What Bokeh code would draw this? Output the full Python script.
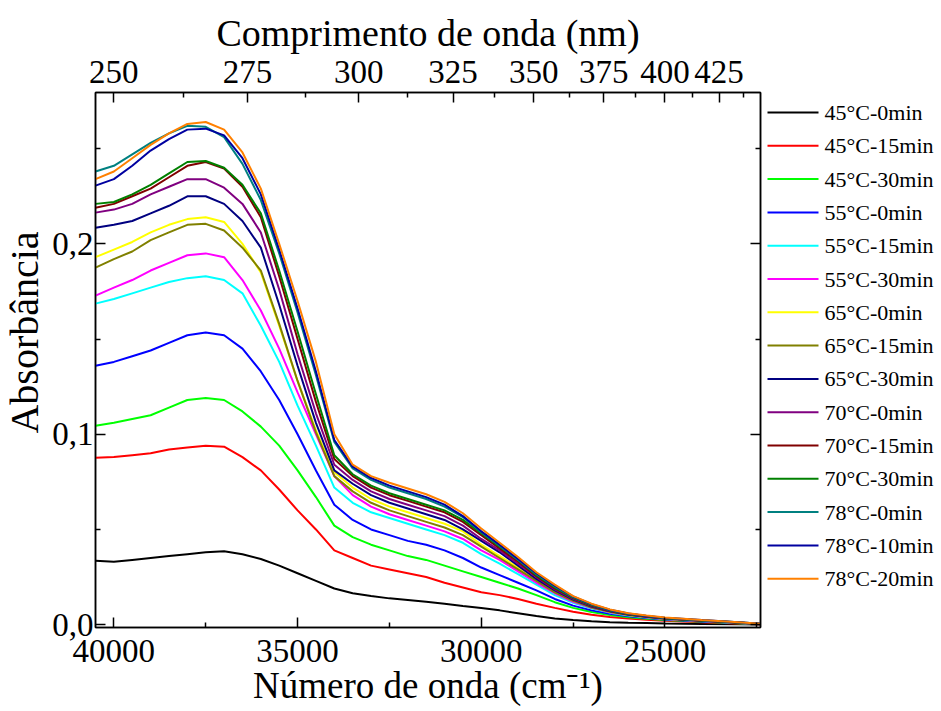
import math
from bokeh.plotting import figure
from bokeh.layouts import row
from bokeh.models import (Range1d, LinearAxis, FixedTicker, CustomJSTickFormatter)
from bokeh.core.properties import value
from bokeh.embed import file_html
from bokeh.resources import INLINE

FONT = "Liberation Serif"

# wavenumber grid (cm^-1)
wavenumber = [40500, 40000, 39500, 39000, 38500, 38000, 37500, 37000, 36500,
              36000, 35500, 35000, 34500, 34000,
              33500, 33000, 32500, 32000, 31500, 31000, 30500, 30000, 29500, 29000, 28500, 28000,
              27500, 27000, 26500, 26000, 25500, 25000, 24000, 23000, 22400]

s45_0 = [0.0336, 0.033, 0.034, 0.035, 0.036, 0.037, 0.038, 0.0385, 0.037,
         0.0345, 0.031, 0.027, 0.023, 0.019,
         0.0165, 0.015, 0.0138, 0.013, 0.012, 0.011, 0.0098, 0.0088, 0.0075, 0.006, 0.0045, 0.0032,
         0.0024, 0.0018, 0.0013, 0.001, 0.0008, 0.0006, 0.0004, 0.0002, 0.0001]
s45_15 = [0.0877, 0.088, 0.089, 0.090, 0.092, 0.093, 0.094, 0.0935, 0.088,
          0.081, 0.071, 0.060, 0.050, 0.039,
          0.035, 0.031, 0.029, 0.027, 0.025, 0.022, 0.0195, 0.017, 0.0155, 0.0135, 0.011, 0.0088,
          0.0068, 0.0052, 0.004, 0.0032, 0.0026, 0.002, 0.0013, 0.0006, 0.0002]
s45_30 = [0.1045, 0.106, 0.108, 0.110, 0.114, 0.118, 0.119, 0.118, 0.112,
          0.104, 0.094, 0.081, 0.067, 0.052,
          0.046, 0.042, 0.039, 0.036, 0.034, 0.031, 0.028, 0.025, 0.022, 0.019, 0.0155, 0.0118,
          0.0088, 0.0066, 0.005, 0.0039, 0.0031, 0.0024, 0.0015, 0.0007, 0.0003]
s55_0 = [0.136, 0.138, 0.141, 0.144, 0.148, 0.152, 0.1535, 0.152, 0.145,
         0.133, 0.118, 0.100, 0.081, 0.063,
         0.055, 0.050, 0.047, 0.044, 0.042, 0.039, 0.035, 0.030, 0.026, 0.022, 0.018, 0.0135,
         0.010, 0.0075, 0.0057, 0.0044, 0.0035, 0.0027, 0.0017, 0.0008, 0.0003]
s55_15 = [0.1686, 0.171, 0.174, 0.177, 0.180, 0.182, 0.183, 0.181, 0.174,
          0.157, 0.138, 0.115, 0.094, 0.072,
          0.064, 0.059, 0.056, 0.053, 0.050, 0.047, 0.043, 0.037, 0.032, 0.0265, 0.021, 0.0155,
          0.0115, 0.0085, 0.0063, 0.0048, 0.0038, 0.0029, 0.0019, 0.0009, 0.0004]
s55_30 = [0.1728, 0.177, 0.181, 0.186, 0.190, 0.194, 0.195, 0.193, 0.181,
          0.165, 0.145, 0.122, 0.100, 0.078,
          0.068, 0.062, 0.058, 0.055, 0.052, 0.049, 0.045, 0.039, 0.034, 0.028, 0.022, 0.0165,
          0.012, 0.0088, 0.0065, 0.005, 0.0039, 0.003, 0.0019, 0.001, 0.0004]
s65_0 = [0.193, 0.197, 0.201, 0.206, 0.210, 0.213, 0.214, 0.2115, 0.200,
         0.185, 0.157, 0.128, 0.102, 0.080,
         0.072, 0.066, 0.062, 0.059, 0.056, 0.053, 0.049, 0.042, 0.036, 0.030, 0.0235, 0.0175,
         0.0128, 0.0092, 0.0068, 0.0051, 0.004, 0.0031, 0.002, 0.001, 0.0004]
s65_15 = [0.1875, 0.192, 0.196, 0.202, 0.206, 0.210, 0.2105, 0.207, 0.198,
          0.186, 0.158, 0.128, 0.101, 0.078,
          0.070, 0.064, 0.060, 0.057, 0.054, 0.051, 0.047, 0.041, 0.035, 0.029, 0.023, 0.017,
          0.0125, 0.009, 0.0067, 0.005, 0.004, 0.0031, 0.002, 0.001, 0.0004]
s65_30 = [0.2085, 0.210, 0.212, 0.216, 0.220, 0.225, 0.225, 0.221, 0.212,
          0.198, 0.168, 0.136, 0.106, 0.081,
          0.074, 0.068, 0.064, 0.061, 0.058, 0.055, 0.050, 0.044, 0.038, 0.031, 0.024, 0.018,
          0.0132, 0.0095, 0.007, 0.0053, 0.0041, 0.0032, 0.0021, 0.001, 0.0004]
s70_0 = [0.2164, 0.218, 0.221, 0.226, 0.230, 0.234, 0.234, 0.2295, 0.221,
         0.206, 0.176, 0.142, 0.111, 0.084,
         0.076, 0.070, 0.066, 0.063, 0.060, 0.057, 0.052, 0.045, 0.039, 0.032, 0.025, 0.0185,
         0.0136, 0.0098, 0.0072, 0.0054, 0.0042, 0.0033, 0.0021, 0.0011, 0.0004]
s70_15 = [0.219, 0.221, 0.225, 0.229, 0.235, 0.241, 0.243, 0.2395, 0.230,
          0.214, 0.183, 0.150, 0.117, 0.087,
          0.078, 0.072, 0.068, 0.065, 0.062, 0.059, 0.054, 0.047, 0.040, 0.033, 0.0255, 0.019,
          0.014, 0.010, 0.0073, 0.0055, 0.0043, 0.0034, 0.0022, 0.0011, 0.0004]
s70_30 = [0.221, 0.222, 0.226, 0.231, 0.237, 0.243, 0.2435, 0.240, 0.231,
          0.216, 0.186, 0.154, 0.121, 0.089,
          0.079, 0.073, 0.069, 0.066, 0.063, 0.060, 0.055, 0.048, 0.041, 0.034, 0.026, 0.0195,
          0.0142, 0.0103, 0.0075, 0.0056, 0.0044, 0.0034, 0.0022, 0.0011, 0.0004]
s78_0 = [0.238, 0.241, 0.247, 0.253, 0.258, 0.262, 0.2615, 0.256, 0.242,
         0.223, 0.195, 0.164, 0.131, 0.096,
         0.082, 0.076, 0.072, 0.069, 0.066, 0.062, 0.0565, 0.0485, 0.0415, 0.034, 0.0265, 0.020,
         0.0145, 0.0105, 0.0076, 0.0057, 0.0045, 0.0035, 0.0023, 0.0012, 0.0005]
s78_10 = [0.2306, 0.234, 0.241, 0.249, 0.255, 0.260, 0.2605, 0.257, 0.245,
          0.226, 0.197, 0.166, 0.133, 0.097,
          0.083, 0.077, 0.073, 0.070, 0.067, 0.063, 0.057, 0.049, 0.042, 0.0345, 0.027, 0.0205,
          0.0148, 0.0108, 0.0078, 0.0058, 0.0046, 0.0036, 0.0024, 0.0012, 0.0005]
s78_20 = [0.234, 0.238, 0.245, 0.252, 0.258, 0.263, 0.264, 0.260, 0.248,
          0.229, 0.200, 0.170, 0.138, 0.100,
          0.084, 0.078, 0.0745, 0.0715, 0.0685, 0.0645, 0.0585, 0.0505, 0.043, 0.0355, 0.0275, 0.021,
          0.015, 0.011, 0.008, 0.006, 0.0048, 0.0038, 0.0025, 0.0013, 0.0005]

series_labels = ["45°C-0min", "45°C-15min", "45°C-30min", "55°C-0min", "55°C-15min",
                 "55°C-30min", "65°C-0min", "65°C-15min", "65°C-30min", "70°C-0min",
                 "70°C-15min", "70°C-30min", "78°C-0min", "78°C-10min", "78°C-20min"]
series_values = [s45_0, s45_15, s45_30, s55_0, s55_15, s55_30, s65_0, s65_15, s65_30,
                 s70_0, s70_15, s70_30, s78_0, s78_10, s78_20]
series_colors = ["#000000", "#FF0000", "#00FF00", "#0000FF", "#00FFFF", "#FF00FF",
                 "#FFFF00", "#808000", "#000080", "#800080", "#800000", "#008000",
                 "#008080", "#0000A0", "#FF8000"]

bottom_ticks = [40000, 35000, 30000, 25000]
bottom_minor = [37500, 32500, 27500, 22500]
y_ticks = [0.0, 0.1, 0.2]
y_minor = [0.05, 0.15, 0.25]
top_nm = [250, 275, 300, 325, 350, 375, 400, 425]
top_minor_nm = [262.5, 287.5, 312.5, 337.5, 362.5, 387.5, 412.5, 437.5]

# frame occupies x 95..760, y 92..627 of the 941x711 page
FRAME_TOP, FRAME_BOTTOM = 92, 627
YLAB_W = 47
LEG_W = 176

p = figure(width=765 - YLAB_W, height=711, output_backend="svg", toolbar_location=None,
           x_range=Range1d(40500, 22400), y_range=Range1d(-0.0015, 0.2795),
           min_border_left=95 - YLAB_W, min_border_right=5,
           min_border_top=FRAME_TOP, min_border_bottom=711 - FRAME_BOTTOM,
           x_axis_location=None, y_axis_location=None)
p.grid.visible = False
p.outline_line_color = "black"
p.outline_line_width = 1.5
p.background_fill_color = "white"
p.border_fill_color = "white"


def style(ax, size="33px"):
    ax.axis_line_width = 1.5
    ax.major_tick_line_width = 1.5
    ax.minor_tick_line_width = 1.5
    ax.major_tick_in = 10
    ax.major_tick_out = 0
    ax.minor_tick_in = 5
    ax.minor_tick_out = 0
    ax.major_label_text_font = FONT
    ax.major_label_text_font_size = size
    ax.major_label_text_color = "black"
    ax.axis_label_text_font = FONT
    ax.axis_label_text_font_size = "37px"
    ax.axis_label_text_font_style = "normal"
    ax.axis_label_text_color = "black"


bottom = LinearAxis(ticker=FixedTicker(ticks=bottom_ticks, minor_ticks=bottom_minor),
                    formatter=CustomJSTickFormatter(code="return tick.toFixed(0);"),
                    axis_label="Número de onda (cm⁻¹)")
style(bottom)
bottom.major_label_standoff = 12
bottom.axis_label_standoff = 0
p.add_layout(bottom, "below")

left = LinearAxis(ticker=FixedTicker(ticks=y_ticks, minor_ticks=y_minor),
                  formatter=CustomJSTickFormatter(code="return tick.toFixed(1).replace('.', ',');"))
style(left, "33px")
left.major_label_standoff = 2
p.add_layout(left, "left")

top = LinearAxis(ticker=FixedTicker(ticks=[1e7 / w for w in top_nm],
                                    minor_ticks=[1e7 / w for w in top_minor_nm]),
                 formatter=CustomJSTickFormatter(code="return Math.round(1e7 / tick).toString();"),
                 axis_label="Comprimento de onda (nm)")
style(top)
top.axis_label_text_font_size = "38px"
top.major_label_standoff = 10
top.axis_label_standoff = 4
p.add_layout(top, "above")

right = LinearAxis(ticker=FixedTicker(ticks=y_ticks, minor_ticks=y_minor),
                   formatter=CustomJSTickFormatter(code="return '';"))
style(right, "1px")
right.major_label_standoff = 0
p.add_layout(right, "right")

for vals, col in zip(series_values, series_colors):
    p.line(wavenumber, vals, line_color=col, line_width=2)


def side_panel(w):
    f = figure(width=w, height=711, output_backend="svg", toolbar_location=None,
               x_range=Range1d(0, w), y_range=Range1d(FRAME_BOTTOM, FRAME_TOP),
               min_border=0, x_axis_location=None, y_axis_location=None)
    f.grid.visible = False
    f.outline_line_color = None
    f.background_fill_color = "white"
    f.border_fill_color = "white"
    return f


# y-axis title panel (pixel coordinates)
ylab = side_panel(YLAB_W)
ylab.text(x=[24], y=[332], text=["Absorbância"], angle=math.pi / 2,
          text_font=value(FONT), text_font_size="40px",
          text_align="center", text_baseline="middle", text_color="black")

# legend panel (pixel coordinates, y downward)
leg = side_panel(LEG_W)
leg_y = [112 + 33.3 * i for i in range(len(series_labels))]
leg.segment(x0=[2] * len(leg_y), x1=[53] * len(leg_y), y0=leg_y, y1=leg_y,
            line_color=series_colors, line_width=2)
leg.text(x=[59] * len(leg_y), y=leg_y, text=series_labels,
         text_font=value(FONT), text_font_size="22px",
         text_baseline="middle", text_align="left", text_color="black")

layout = row(ylab, p, leg, spacing=0)
open("out.html", "w").write(file_html(layout, INLINE))
